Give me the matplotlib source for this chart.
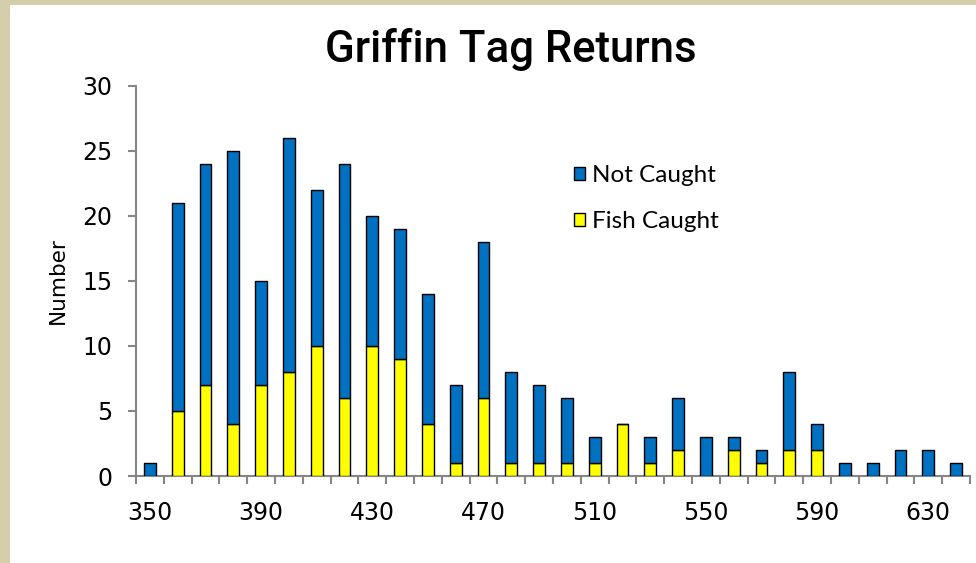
import matplotlib
matplotlib.use('Agg')
import matplotlib.pyplot as plt
from matplotlib.patches import Rectangle

plt.rcParams['font.family'] = ['DejaVu Sans']

# tag-return size classes (mm)
sizes = [350, 360, 370, 380, 390, 400, 410, 420, 430, 440,
         450, 460, 470, 480, 490, 500, 510, 520, 530, 540,
         550, 560, 570, 580, 590, 600, 610, 620, 630, 640]
fish_caught = [0, 5, 7, 4, 7, 8, 10, 6, 10, 9,
               4, 1, 6, 1, 1, 1, 1, 4, 1, 2,
               0, 2, 1, 2, 2, 0, 0, 0, 0, 0]
not_caught = [1, 16, 17, 21, 8, 18, 12, 18, 10, 10,
              10, 6, 12, 7, 6, 5, 2, 0, 2, 4,
              3, 1, 1, 6, 2, 1, 1, 2, 2, 1]

BLUE = '#0070C0'
YELLOW = '#FFFF00'
GRAY = '#868686'


def main():
    fig = plt.figure(figsize=(9.76, 5.63), dpi=100)
    fig.patch.set_facecolor('#D5CEAB')
    # white slide panel
    fig.patches.append(Rectangle((10 / 976, 0), 1, 1 - 5 / 563, transform=fig.transFigure,
                                 facecolor='white', edgecolor='none', zorder=-10))

    ax = fig.add_axes([136 / 976, 1 - 476 / 563, 834 / 976, 390 / 563])
    ax.set_facecolor('none')
    pos = list(range(len(sizes)))
    w = 0.43
    ax.bar(pos, fish_caught, w, color=YELLOW, edgecolor='black', linewidth=1.0,
           label='Fish Caught', zorder=3)
    ax.bar(pos, not_caught, w, bottom=fish_caught, color=BLUE, edgecolor='black',
           linewidth=1.0, label='Not Caught', zorder=3)

    ax.set_xlim(-0.5, len(sizes) - 0.5)
    ax.set_ylim(0, 30)
    ax.set_yticks(range(0, 31, 5))
    ax.set_xticks(pos[::4])
    ax.set_xticklabels([str(s) for s in sizes[::4]])
    ax.set_xticks([p - 0.5 for p in pos] + [len(sizes) - 0.5], minor=True)
    ax.tick_params(axis='x', which='major', length=0, pad=18, labelsize=17)
    ax.tick_params(axis='x', which='minor', length=6, width=1.5, color=GRAY, direction='out')
    ax.tick_params(axis='y', length=6, width=1.5, color=GRAY, direction='out',
                   labelsize=17, pad=11)
    for s in ['top', 'right']:
        ax.spines[s].set_visible(False)
    for s in ['left', 'bottom']:
        ax.spines[s].set_color(GRAY)
        ax.spines[s].set_linewidth(1.5)

    ax.set_ylabel('Number', fontsize=15.5, labelpad=10)
    fig.text(511 / 976, 1 - 62 / 563, 'Griffin Tag Returns', fontsize=31.5,
             family='Roboto', weight='medium', ha='center', va='baseline')

    handles, labels = ax.get_legend_handles_labels()
    leg = ax.legend(handles[::-1], labels[::-1], loc='upper left',
                    bbox_to_anchor=(552 / 976, 1 - 143 / 563),
                    bbox_transform=fig.transFigure, frameon=False,
                    prop={'family': 'Lato', 'size': 17.5},
                    handlelength=0.45, handleheight=0.45,
                    handletextpad=0.3, labelspacing=1.05)

    fig.savefig('out.png', dpi=100, facecolor=fig.get_facecolor())


if __name__ == '__main__':
    main()
